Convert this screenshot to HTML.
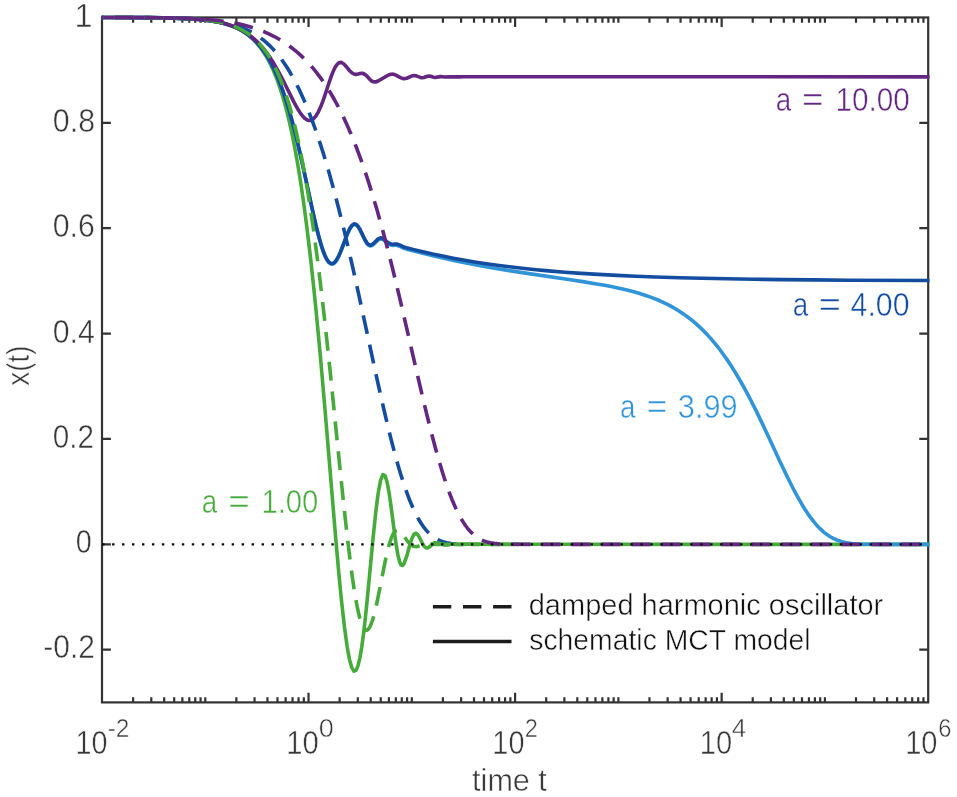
<!DOCTYPE html>
<html lang="en"><head><meta charset="utf-8"><title>x(t) vs time t</title>
<style>html,body{margin:0;padding:0;background:#fff}svg{display:block}text{font-family:"Liberation Sans",sans-serif}</style></head><body>
<svg width="957" height="797" viewBox="0 0 957 797">
<rect width="957" height="797" fill="#fff"/>
<g stroke="#333" stroke-width="2.2" fill="none">
<rect x="102.0" y="17.45" width="826.2" height="684.9499999999999"/>
<path d="M133.09 702.4v-5.2M133.09 17.45v5.2M151.27 702.4v-5.2M151.27 17.45v5.2M164.18 702.4v-5.2M164.18 17.45v5.2M174.19 702.4v-5.2M174.19 17.45v5.2M182.36 702.4v-5.2M182.36 17.45v5.2M189.28 702.4v-5.2M189.28 17.45v5.2M195.27 702.4v-5.2M195.27 17.45v5.2M200.55 702.4v-5.2M200.55 17.45v5.2M205.28 702.4v-5.2M205.28 17.45v5.2M236.36 702.4v-5.2M236.36 17.45v5.2M254.55 702.4v-5.2M254.55 17.45v5.2M267.45 702.4v-5.2M267.45 17.45v5.2M277.46 702.4v-5.2M277.46 17.45v5.2M285.64 702.4v-5.2M285.64 17.45v5.2M292.55 702.4v-5.2M292.55 17.45v5.2M298.54 702.4v-5.2M298.54 17.45v5.2M303.82 702.4v-5.2M303.82 17.45v5.2M308.55 702.4v-9.6M308.55 17.45v9.6M339.64 702.4v-5.2M339.64 17.45v5.2M357.82 702.4v-5.2M357.82 17.45v5.2M370.73 702.4v-5.2M370.73 17.45v5.2M380.74 702.4v-5.2M380.74 17.45v5.2M388.91 702.4v-5.2M388.91 17.45v5.2M395.83 702.4v-5.2M395.83 17.45v5.2M401.82 702.4v-5.2M401.82 17.45v5.2M407.10 702.4v-5.2M407.10 17.45v5.2M411.83 702.4v-5.2M411.83 17.45v5.2M442.91 702.4v-5.2M442.91 17.45v5.2M461.10 702.4v-5.2M461.10 17.45v5.2M474.00 702.4v-5.2M474.00 17.45v5.2M484.01 702.4v-5.2M484.01 17.45v5.2M492.19 702.4v-5.2M492.19 17.45v5.2M499.10 702.4v-5.2M499.10 17.45v5.2M505.09 702.4v-5.2M505.09 17.45v5.2M510.37 702.4v-5.2M510.37 17.45v5.2M515.10 702.4v-9.6M515.10 17.45v9.6M546.19 702.4v-5.2M546.19 17.45v5.2M564.37 702.4v-5.2M564.37 17.45v5.2M577.28 702.4v-5.2M577.28 17.45v5.2M587.29 702.4v-5.2M587.29 17.45v5.2M595.46 702.4v-5.2M595.46 17.45v5.2M602.38 702.4v-5.2M602.38 17.45v5.2M608.37 702.4v-5.2M608.37 17.45v5.2M613.65 702.4v-5.2M613.65 17.45v5.2M618.38 702.4v-5.2M618.38 17.45v5.2M649.46 702.4v-5.2M649.46 17.45v5.2M667.65 702.4v-5.2M667.65 17.45v5.2M680.55 702.4v-5.2M680.55 17.45v5.2M690.56 702.4v-5.2M690.56 17.45v5.2M698.74 702.4v-5.2M698.74 17.45v5.2M705.65 702.4v-5.2M705.65 17.45v5.2M711.64 702.4v-5.2M711.64 17.45v5.2M716.92 702.4v-5.2M716.92 17.45v5.2M721.65 702.4v-9.6M721.65 17.45v9.6M752.74 702.4v-5.2M752.74 17.45v5.2M770.92 702.4v-5.2M770.92 17.45v5.2M783.83 702.4v-5.2M783.83 17.45v5.2M793.84 702.4v-5.2M793.84 17.45v5.2M802.01 702.4v-5.2M802.01 17.45v5.2M808.93 702.4v-5.2M808.93 17.45v5.2M814.92 702.4v-5.2M814.92 17.45v5.2M820.20 702.4v-5.2M820.20 17.45v5.2M824.93 702.4v-5.2M824.93 17.45v5.2M856.01 702.4v-5.2M856.01 17.45v5.2M874.20 702.4v-5.2M874.20 17.45v5.2M887.10 702.4v-5.2M887.10 17.45v5.2M897.11 702.4v-5.2M897.11 17.45v5.2M905.29 702.4v-5.2M905.29 17.45v5.2M912.20 702.4v-5.2M912.20 17.45v5.2M918.19 702.4v-5.2M918.19 17.45v5.2M923.47 702.4v-5.2M923.47 17.45v5.2M102.0 122.83h8.9M928.2 122.83h-8.9M102.0 228.20h8.9M928.2 228.20h-8.9M102.0 333.58h8.9M928.2 333.58h-8.9M102.0 438.96h8.9M928.2 438.96h-8.9M102.0 544.33h8.9M928.2 544.33h-8.9M102.0 649.71h8.9M928.2 649.71h-8.9"/>
</g>
<defs><clipPath id="c"><rect x="101.5" y="14.45" width="828.4000000000001" height="687.9499999999999"/></clipPath></defs>
<g clip-path="url(#c)" fill="none" stroke-width="3.6" stroke-linejoin="round">
<path d="M100.76 17.47 L134.15 17.56 L157.95 17.77 L175.25 18.14 L181.91 18.38 L189.04 18.73 L196.33 19.22 L202.60 19.78 L208.10 20.43 L213 21.16 L217.41 21.96 L222.69 23.16 L225.12 23.81 L229.61 25.21 L233.69 26.75 L237.43 28.42 L240.88 30.23 L244.08 32.18 L247.08 34.26 L248.50 35.35 L251.22 37.62 L253.78 40.03 L256.21 42.57 L258.51 45.23 L260.70 48.03 L262.78 50.94 L264.78 53.98 L266.69 57.15 L268.52 60.43 L270.28 63.83 L271.97 67.35 L273.60 70.98 L275.17 74.73 L276.69 78.59 L278.16 82.55 L279.59 86.63 L282.31 95.09 L284.87 103.95 L287.30 113.20 L289.60 122.81 L291.79 132.77 L293.87 143.06 L295.87 153.66 L297.77 164.54 L299.61 175.68 L301.36 187.07 L303.06 198.68 L304.69 210.50 L306.26 222.49 L309.25 246.92 L310.68 259.31 L313.40 284.35 L315.96 309.59 L318.39 334.84 L320.69 359.96 L324.96 409.15 L335.78 539.01 L338.87 573.68 L340.34 589.10 L341.77 603.17 L344.49 627.30 L347.05 646 L349.47 659.39 L351.77 667.67 L353.96 671.18 L356.05 670.33 L358.04 665.61 L359.95 657.55 L361.78 646.73 L363.54 633.71 L365.23 619.09 L366.87 603.41 L372.86 540.25 L375.57 513.81 L378.14 493.52 L380.56 480.39 L382.86 474.61 L385.05 475.61 L387.14 482.27 L389.13 493.09 L391.04 506.39 L394.63 534.10 L396.32 545.90 L397.95 555.18 L399.53 561.53 L401.05 564.90 L402.52 565.53 L403.94 563.87 L406.66 556.45 L409.23 547.01 L411.65 538.95 L413.95 534.23 L416.14 533.25 L418.23 535.28 L420.22 538.97 L422.13 542.89 L423.96 545.99 L425.72 547.70 L427.41 548.01 L429.04 547.24 L432.14 544.52 L433.61 543.46 L435.03 542.92 L437.75 542.81 L440.32 543.59 L442.74 544.42 L445.04 544.83 L447.23 544.77 L451.31 544.24 L453.22 544.16 L458.50 544.38 L460.13 544.39 L466.12 544.32 L929.56 544.33" stroke="#46ab3a"/>
<path d="M100.76 17.47 L126.86 17.53 L147.61 17.65 L162.94 17.85 L175.25 18.14 L186.32 18.58 L196.33 19.21 L204.51 19.99 L211.42 20.90 L217.41 21.94 L220.13 22.52 L225.12 23.77 L227.42 24.44 L231.69 25.89 L233.69 26.66 L237.43 28.31 L239.19 29.18 L242.51 31.01 L244.08 31.97 L247.08 33.99 L248.50 35.04 L251.22 37.24 L253.78 39.55 L256.21 41.97 L258.51 44.50 L260.70 47.14 L262.78 49.87 L264.78 52.71 L266.69 55.64 L268.52 58.67 L270.28 61.78 L271.97 64.97 L273.60 68.24 L275.17 71.59 L278.16 78.50 L279.59 82.05 L282.31 89.31 L284.87 96.78 L287.30 104.40 L289.60 112.15 L291.79 119.98 L293.87 127.86 L297.77 143.64 L299.61 151.47 L303.06 166.83 L313.40 214.45 L315.96 225.55 L318.39 235.30 L320.69 243.64 L322.87 250.51 L324.96 255.93 L326.95 259.93 L328.86 262.56 L330.69 263.92 L332.45 264.12 L334.15 263.30 L335.78 261.60 L337.35 259.18 L338.87 256.20 L340.34 252.83 L341.77 249.23 L347.05 235.11 L349.47 229.71 L351.77 226.14 L353.96 224.58 L356.05 224.93 L358.04 226.88 L359.95 229.96 L365.23 240.83 L366.87 243.50 L368.44 245.23 L369.96 245.97 L371.43 245.81 L372.86 244.93 L378.14 239.87 L380.56 238.83 L382.86 239.39 L385.05 241.02 L387.14 242.93 L389.13 244.42 L391.04 245.21 L392.87 245.39 L394.63 245.31 L396.32 245.32 L397.95 245.64 L399.53 246.26 L402.52 247.74 L403.94 248.28 L406.66 249.16 L413.95 251.12 L423.96 253.62 L435.03 256.30 L442.74 258.08 L455.05 260.76 L466.12 263.03 L480.41 265.72 L495.79 268.42 L509.41 270.65 L523.88 272.89 L567.10 279.23 L582.86 281.63 L598.19 284.17 L604.76 285.35 L612.25 286.80 L620.14 288.47 L626.85 290.04 L633.76 291.82 L639.75 293.54 L645.03 295.20 L651.23 297.37 L657.94 300.02 L662.66 302.10 L666.94 304.16 L670.84 306.19 L674.43 308.21 L679.33 311.19 L683.74 314.14 L689.03 318 L691.45 319.91 L695.94 323.68 L700.02 327.38 L703.76 331.03 L707.21 334.61 L710.42 338.13 L713.41 341.60 L717.55 346.67 L720.12 349.99 L724.84 356.46 L727.03 359.62 L731.11 365.77 L734.85 371.72 L738.30 377.46 L741.51 383.02 L744.50 388.39 L748.64 396.10 L751.20 401.03 L755.93 410.41 L762.20 423.34 L767.70 435.03 L779.73 460.92 L787.02 476.24 L793.29 488.75 L795.20 492.39 L798.79 498.96 L802.11 504.70 L805.20 509.72 L808.10 514.10 L810.82 517.88 L813.38 521.22 L815.81 524.14 L818.11 526.69 L820.30 528.92 L822.38 530.87 L824.38 532.57 L826.29 534.06 L828.12 535.36 L829.88 536.49 L833.20 538.35 L836.29 539.76 L839.19 540.85 L841.91 541.66 L844.47 542.29 L846.90 542.77 L851.39 543.42 L855.47 543.80 L859.21 544.02 L864.29 544.20 L868.85 544.27 L882.47 544.33 L929.56 544.33" stroke="#3094d9"/>
<path d="M100.76 17.47 L126.86 17.53 L147.61 17.65 L162.94 17.85 L175.25 18.14 L186.32 18.58 L196.33 19.21 L204.51 19.99 L211.42 20.90 L217.41 21.94 L220.13 22.52 L225.12 23.77 L227.42 24.44 L231.69 25.89 L233.69 26.66 L237.43 28.31 L239.19 29.18 L242.51 31.01 L244.08 31.97 L247.08 33.99 L248.50 35.04 L251.22 37.24 L253.78 39.55 L256.21 41.97 L258.51 44.50 L260.70 47.13 L262.78 49.87 L264.78 52.71 L266.69 55.64 L268.52 58.66 L270.28 61.77 L271.97 64.96 L273.60 68.24 L275.17 71.58 L278.16 78.49 L279.59 82.03 L282.31 89.30 L284.87 96.75 L287.30 104.37 L289.60 112.11 L291.79 119.94 L293.87 127.82 L297.77 143.58 L299.61 151.40 L303.06 166.73 L310.68 201.93 L313.40 214.24 L315.96 225.30 L318.39 235.02 L320.69 243.31 L322.87 250.15 L324.96 255.52 L326.95 259.48 L328.86 262.07 L330.69 263.39 L332.45 263.55 L334.15 262.69 L335.78 260.96 L337.35 258.51 L338.87 255.51 L340.34 252.12 L341.77 248.50 L347.05 234.36 L349.47 228.97 L351.77 225.42 L353.96 223.88 L356.05 224.24 L358.04 226.20 L359.95 229.28 L361.78 232.97 L363.54 236.72 L365.23 240.08 L366.87 242.70 L368.44 244.39 L369.96 245.09 L371.43 244.88 L372.86 243.97 L378.14 238.84 L380.56 237.80 L382.86 238.35 L385.05 239.97 L387.14 241.85 L389.13 243.30 L391.04 244.05 L392.87 244.19 L394.63 244.08 L396.32 244.08 L397.95 244.39 L399.53 244.99 L402.52 246.43 L403.94 246.95 L406.66 247.77 L413.95 249.63 L423.96 251.96 L433.61 254.14 L442.74 256.08 L453.22 258.16 L464.70 260.26 L476.13 262.16 L486.14 263.70 L497.21 265.27 L509.41 266.82 L522.31 268.31 L533.58 269.49 L548.32 270.86 L564.67 272.19 L581.16 273.36 L598.19 274.40 L617.15 275.40 L635.85 276.23 L655.37 276.96 L679.33 277.71 L701.93 278.28 L727.03 278.80 L753.63 279.23 L782.29 279.60 L813.38 279.91 L849.20 280.18 L929.56 280.54" stroke="#144da0"/>
<path d="M100.76 17.47 L140.42 17.60 L153.81 17.72 L165.24 17.89 L175.25 18.14 L183.43 18.44 L191.60 18.87 L198.52 19.39 L204.51 19.97 L211.42 20.87 L217.41 21.90 L222.69 23.06 L227.42 24.35 L231.69 25.75 L235.60 27.28 L239.19 28.91 L242.51 30.65 L244.08 31.56 L247.08 33.46 L248.50 34.44 L251.22 36.48 L253.78 38.60 L256.21 40.80 L258.51 43.07 L260.70 45.41 L262.78 47.81 L264.78 50.26 L266.69 52.76 L270.28 57.87 L273.60 63.09 L276.69 68.34 L279.59 73.59 L282.31 78.77 L293.87 101.84 L295.87 105.58 L297.77 108.95 L299.61 111.91 L301.36 114.46 L303.06 116.56 L304.69 118.21 L306.26 119.41 L307.78 120.16 L309.25 120.47 L310.68 120.34 L313.40 118.87 L315.96 115.96 L318.39 111.84 L320.69 106.78 L322.87 101.09 L324.96 95.07 L328.86 83.19 L330.69 77.84 L332.45 73.14 L334.15 69.24 L335.78 66.21 L337.35 64.08 L338.87 62.83 L340.34 62.38 L341.77 62.64 L344.49 64.58 L347.05 67.53 L349.47 70.49 L351.77 72.76 L353.96 74.03 L356.05 74.36 L358.04 74.05 L359.95 73.56 L361.78 73.33 L363.54 73.64 L365.23 74.59 L366.87 76.07 L369.96 79.50 L371.43 80.85 L372.86 81.65 L375.57 82 L378.14 81.05 L385.05 76.93 L387.14 75.75 L389.13 74.78 L391.04 74.20 L392.87 74.14 L394.63 74.59 L396.32 75.38 L399.53 77.19 L401.05 77.92 L402.52 78.43 L403.94 78.64 L406.66 78.26 L411.65 76.05 L413.95 75.55 L416.14 75.83 L420.22 77.44 L422.13 77.80 L423.96 77.55 L427.41 76.32 L429.04 76.08 L430.62 76.30 L433.61 77.27 L435.03 77.44 L440.32 76.60 L442.74 76.73 L445.04 76.95 L449.32 76.76 L453.22 76.88 L456.81 76.79 L460.13 76.86 L463.23 76.81 L929.56 76.83" stroke="#642781"/>
<path d="M102 17.48 L134.92 17.56 L157.36 17.75 L174.72 18.08 L188.77 18.60 L195.24 18.97 L201.16 19.40 L206.67 19.90 L211.77 20.48 L216.59 21.15 L221.13 21.90 L225.54 22.77 L229.67 23.73 L234.08 24.93 L238.21 26.25 L242.20 27.72 L245.92 29.30 L249.64 31.09 L253.22 33.05 L256.66 35.17 L259.97 37.44 L263.27 39.96 L266.44 42.64 L269.61 45.58 L272.64 48.67 L275.67 52.04 L278.56 55.54 L281.45 59.32 L284.21 63.21 L287.24 67.81 L290.13 72.54 L293.02 77.61 L295.91 83.03 L298.81 88.82 L301.56 94.68 L304.32 100.88 L307.07 107.43 L309.82 114.34 L312.58 121.60 L315.33 129.24 L318.09 137.23 L320.84 145.60 L323.60 154.33 L326.35 163.42 L329.11 172.87 L333.93 190.25 L338.75 208.68 L343.70 228.66 L348.80 250.17 L353.34 270.08 L358.16 291.81 L373.45 362.60 L378.69 386.49 L383.78 409.02 L388.46 428.77 L391.08 439.31 L393.56 448.91 L396.04 458.11 L398.38 466.39 L400.72 474.26 L402.92 481.26 L405.27 488.27 L407.47 494.44 L410.22 501.56 L412.98 508.02 L415.73 513.82 L418.49 518.98 L421.24 523.51 L422.62 525.55 L424.13 527.63 L425.51 529.37 L427.03 531.12 L428.54 532.73 L430.06 534.18 L431.57 535.49 L433.09 536.67 L434.60 537.72 L436.25 538.74 L437.91 539.63 L439.56 540.40 L441.35 541.12 L443.14 541.73 L444.93 542.25 L446.86 542.70 L448.92 543.10 L451.13 543.42 L455.95 543.90 L461.87 544.18" stroke="#144da0" stroke-dasharray="19 11" stroke-dashoffset="17.4"/>
<path d="M429.04 547.24 L432.14 544.52 L433.61 543.46 L435.03 542.92 L437.75 542.81 L440.32 543.59 L442.74 544.42 L445.04 544.83 L447.23 544.77 L451.31 544.24 L453.22 544.16 L458.50 544.38 L460.13 544.39 L464.70 544.32 L518.99 544.33" stroke="#46ab3a"/>
<path d="M102 17.48 L136.43 17.57 L159.29 17.78 L176.78 18.18 L184.08 18.45 L190.69 18.79 L197.03 19.22 L202.95 19.75 L208.32 20.36 L213.28 21.06 L217.96 21.88 L222.37 22.82 L226.50 23.88 L230.36 25.04 L234.49 26.52 L238.35 28.16 L242.06 30.01 L245.51 32 L248.95 34.30 L252.12 36.72 L255.15 39.34 L258.18 42.32 L261.07 45.51 L263.82 48.92 L266.58 52.73 L269.20 56.74 L271.67 60.95 L274.15 65.57 L276.49 70.36 L278.84 75.59 L281.04 80.95 L283.24 86.76 L285.31 92.65 L287.38 98.99 L289.44 105.82 L291.37 112.65 L293.30 119.94 L295.23 127.73 L297.15 136.03 L298.94 144.22 L300.87 153.58 L302.66 162.78 L304.45 172.50 L306.24 182.75 L308.03 193.53 L309.82 204.87 L313.13 227.28 L316.57 252.66 L320.02 280.10 L323.60 310.70 L326.76 339.37 L330.07 370.62 L340.40 472.46 L343.84 505.58 L347.28 536.82 L350.31 561.94 L352.24 576.42 L354.03 588.62 L355.82 599.48 L357.48 608.19 L359.13 615.54 L359.96 618.69 L360.78 621.47 L361.61 623.87 L362.43 625.90 L363.26 627.54 L363.95 628.61 L364.36 629.12 L364.91 629.66 L365.46 630.02 L366.01 630.20 L366.43 630.23 L366.98 630.12 L367.53 629.84 L368.08 629.40 L369.04 628.22 L370.15 626.28 L371.25 623.74 L372.35 620.62 L373.31 617.45 L374.42 613.38 L375.52 608.88 L376.62 604 L378.82 593.40 L384.75 563.32 L386.67 554.46 L388.33 547.71 L389.29 544.22 L390.25 541.08 L391.22 538.34 L392.18 535.99 L393.01 534.30 L393.97 532.72 L394.94 531.55 L395.90 530.78 L396.31 530.57 L396.86 530.39 L397.42 530.33 L397.97 530.38 L398.52 530.54 L399.07 530.79 L400.17 531.57 L401.27 532.65 L402.37 533.96 L403.61 535.64 L407.19 540.74 L408.43 542.32 L409.54 543.56 L410.91 544.82 L412.15 545.68 L413.39 546.25 L414.77 546.57 L416.01 546.61 L417.39 546.43 L418.90 546.05 L422.34 544.92 L424 544.47 L425.92 544.12 L427.85 543.97 L429.78 543.99 L435.01 544.32 L438.04 544.39 L446.31 544.32 L499.88 544.33" stroke="#46ab3a" stroke-dasharray="19 11" stroke-dashoffset="17.3"/>
<path d="M102 17.48 L139.46 17.58 L164.25 17.82 L174.44 18.02 L183.53 18.27 L191.66 18.59 L199.23 18.98 L206.53 19.48 L213.42 20.08 L219.89 20.79 L225.95 21.61 L231.74 22.54 L237.38 23.62 L242.75 24.83 L247.99 26.19 L253.63 27.89 L259 29.74 L264.24 31.80 L269.33 34.07 L274.29 36.54 L279.11 39.23 L283.79 42.12 L288.34 45.22 L292.75 48.52 L297.15 52.14 L301.29 55.84 L305.42 59.88 L309.41 64.11 L313.40 68.69 L317.26 73.47 L320.98 78.44 L324.42 83.37 L327.87 88.63 L331.17 94.01 L334.48 99.74 L337.78 105.82 L340.95 112 L344.12 118.53 L347.28 125.43 L350.45 132.71 L353.48 140.04 L356.51 147.74 L359.54 155.81 L362.57 164.27 L365.60 173.11 L368.49 181.92 L371.52 191.53 L376.48 208.09 L381.58 226.17 L386.81 245.80 L392.18 266.98 L396.86 286.18 L401.82 307.12 L417.11 373.50 L422.07 394.75 L426.75 414.25 L430.88 430.79 L435.01 446.52 L438.87 460.32 L442.59 472.71 L446.31 484.11 L448.24 489.61 L450.16 494.81 L452.09 499.72 L454.02 504.32 L455.81 508.33 L457.74 512.34 L459.67 516.06 L461.59 519.48 L463.52 522.61 L465.45 525.46 L467.38 528.03 L469.44 530.50 L471.51 532.69 L473.58 534.61 L475.64 536.28 L477.85 537.81 L479.22 538.65 L480.74 539.47 L482.25 540.20 L483.77 540.83 L486.94 541.91 L490.38 542.76 L494.10 543.38 L498.37 543.83 L503.19 544.10 L509.38 544.26 L528.94 544.33 L928.20 544.33" stroke="#642781" stroke-dasharray="19 11" stroke-dashoffset="17.3"/>
</g>
<line x1="102.1" y1="544.33" x2="928.2" y2="544.33" stroke="#0a0a0a" stroke-width="2.4" stroke-dasharray="2.4 7.568"/>
<text x="74.50" y="26.7" font-size="32.3" fill="#383838" textLength="17.96" lengthAdjust="spacingAndGlyphs" stroke="#fff" stroke-width="0.5">1</text>
<text x="52.83" y="131.9" font-size="32.3" fill="#383838" textLength="42.19" lengthAdjust="spacingAndGlyphs" stroke="#fff" stroke-width="0.5">0.8</text>
<text x="52.73" y="237.3" font-size="32.3" fill="#383838" textLength="42.08" lengthAdjust="spacingAndGlyphs" stroke="#fff" stroke-width="0.5">0.6</text>
<text x="52.73" y="342.5" font-size="32.3" fill="#383838" textLength="42.12" lengthAdjust="spacingAndGlyphs" stroke="#fff" stroke-width="0.5">0.4</text>
<text x="52.75" y="447.6" font-size="32.3" fill="#383838" textLength="41.16" lengthAdjust="spacingAndGlyphs" stroke="#fff" stroke-width="0.5">0.2</text>
<text x="75.79" y="553.3" font-size="32.3" fill="#383838" textLength="15.99" lengthAdjust="spacingAndGlyphs" stroke="#fff" stroke-width="0.5">0</text>
<text x="43.34" y="658.1" font-size="32.3" fill="#383838" textLength="51.59" lengthAdjust="spacingAndGlyphs" stroke="#fff" stroke-width="0.5">-0.2</text>
<text fill="#383838" stroke="#fff" stroke-width="0.5"><tspan x="75.58" y="753.5" font-size="32.3" textLength="31.97" lengthAdjust="spacingAndGlyphs">10</tspan><tspan x="107.66" y="736.9" font-size="26.0" textLength="21.80" lengthAdjust="spacingAndGlyphs">-2</tspan></text>
<text fill="#383838" stroke="#fff" stroke-width="0.5"><tspan x="286.24" y="753.5" font-size="32.3" textLength="32.42" lengthAdjust="spacingAndGlyphs">10</tspan><tspan x="318.86" y="736.9" font-size="26.0" textLength="15.04" lengthAdjust="spacingAndGlyphs">0</tspan></text>
<text fill="#383838" stroke="#fff" stroke-width="0.5"><tspan x="492.37" y="753.5" font-size="32.3" textLength="32.08" lengthAdjust="spacingAndGlyphs">10</tspan><tspan x="524.86" y="736.9" font-size="26.0" textLength="13.14" lengthAdjust="spacingAndGlyphs">2</tspan></text>
<text fill="#383838" stroke="#fff" stroke-width="0.5"><tspan x="699.75" y="753.5" font-size="32.3" textLength="32.31" lengthAdjust="spacingAndGlyphs">10</tspan><tspan x="731.80" y="736.9" font-size="26.0" textLength="14.52" lengthAdjust="spacingAndGlyphs">4</tspan></text>
<text fill="#383838" stroke="#fff" stroke-width="0.5"><tspan x="905.15" y="753.5" font-size="32.3" textLength="32.31" lengthAdjust="spacingAndGlyphs">10</tspan><tspan x="938.16" y="736.9" font-size="26.0" textLength="13.22" lengthAdjust="spacingAndGlyphs">6</tspan></text>
<text x="472.11" y="791.2" font-size="31.4" fill="#383838" textLength="74.75" lengthAdjust="spacingAndGlyphs" stroke="#fff" stroke-width="0.5">time t</text>
<text fill="#642781" stroke="#fff" stroke-width="0.5"><tspan x="775.82" y="111.4" font-size="32.3" textLength="15.45" lengthAdjust="spacingAndGlyphs">a</tspan> <tspan x="801.99" y="111.4" font-size="32.3" textLength="21.56" lengthAdjust="spacingAndGlyphs">=</tspan> <tspan x="835.40" y="111.4" font-size="32.3" textLength="74.29" lengthAdjust="spacingAndGlyphs">10.00</tspan></text>
<text fill="#144da0" stroke="#fff" stroke-width="0.5"><tspan x="792.67" y="316.4" font-size="32.3" textLength="15.45" lengthAdjust="spacingAndGlyphs">a</tspan> <tspan x="818.61" y="316.4" font-size="32.3" textLength="22.52" lengthAdjust="spacingAndGlyphs">=</tspan> <tspan x="850.60" y="316.4" font-size="32.3" textLength="58.94" lengthAdjust="spacingAndGlyphs">4.00</tspan></text>
<text fill="#3094d9" stroke="#fff" stroke-width="0.5"><tspan x="620.12" y="417.6" font-size="32.3" textLength="15.45" lengthAdjust="spacingAndGlyphs">a</tspan> <tspan x="646.43" y="417.6" font-size="32.3" textLength="20.96" lengthAdjust="spacingAndGlyphs">=</tspan> <tspan x="677.81" y="417.6" font-size="32.3" textLength="59.93" lengthAdjust="spacingAndGlyphs">3.99</tspan></text>
<text fill="#46ab3a" stroke="#fff" stroke-width="0.5"><tspan x="201.87" y="512.6" font-size="32.3" textLength="15.45" lengthAdjust="spacingAndGlyphs">a</tspan> <tspan x="228.29" y="512.6" font-size="32.3" textLength="21.56" lengthAdjust="spacingAndGlyphs">=</tspan> <tspan x="261.44" y="512.6" font-size="32.3" textLength="56.87" lengthAdjust="spacingAndGlyphs">1.00</tspan></text>
<text x="528.74" y="615.1" font-size="28.8" fill="#101010" textLength="354.54" lengthAdjust="spacingAndGlyphs" stroke="#fff" stroke-width="0.5">damped harmonic oscillator</text>
<text x="529.26" y="649.6" font-size="28.8" fill="#101010" textLength="281.33" lengthAdjust="spacingAndGlyphs" stroke="#fff" stroke-width="0.5">schematic MCT model</text>
<text transform="translate(28.9,385.75) rotate(-90)" font-size="31.4" fill="#383838" textLength="40.38" lengthAdjust="spacingAndGlyphs" stroke="#fff" stroke-width="0.5">x(t)</text>
<g stroke="#1c1c1c" stroke-width="3.5"><line x1="432.9" y1="606.7" x2="511.5" y2="606.7" stroke-dasharray="18.4 11.7"/><line x1="432.9" y1="641.5" x2="511.5" y2="641.5"/></g>
</svg></body></html>
